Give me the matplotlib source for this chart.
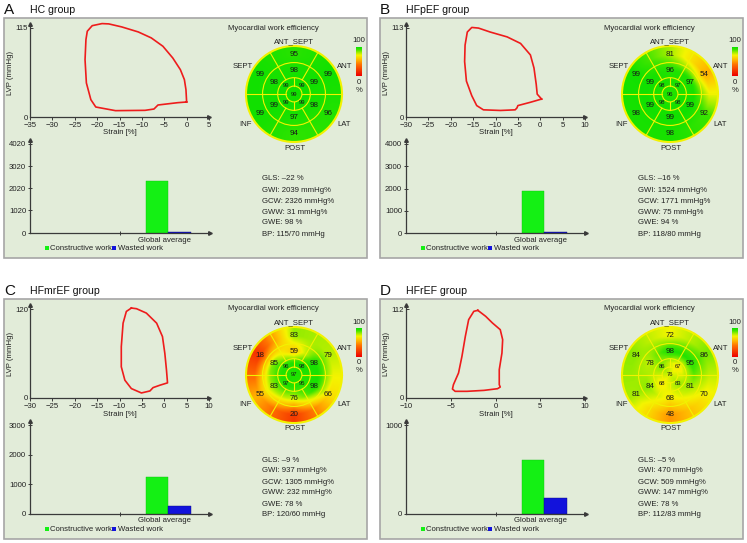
import numpy as np
import matplotlib
matplotlib.use('Agg')
import matplotlib.pyplot as plt
from matplotlib.patches import Rectangle, Circle
from matplotlib.colors import LinearSegmentedColormap

plt.rcParams['font.family'] = ['Liberation Sans', 'DejaVu Sans']

# ---------------- data ----------------
letters = ['A', 'B', 'C', 'D']
groups = ['HC group', 'HFpEF group', 'HFmrEF group', 'HFrEF group']

# pressure-strain loops (strain %, LVP mmHg)
loopA_strain = [0.0, -0.15, -0.5, -1.4, -3.1, -5.3, -7.9, -10.8, -14.5, -17.4, -18.9, -21.1, -22.2,
                -22.5, -22.7, -22.4, -21.4, -20.3, -15.9, -9.3, -7.3, -6.4, -2.0, 0.0]
loopA_lvp = [19.4, 35.3, 48.3, 61.2, 76.3, 91.4, 102.2, 109.9, 116.4, 120.3, 120.7, 118.0, 110.8,
             100.0, 74.0, 44.0, 22.4, 12.9, 8.2, 8.6, 10.3, 15.5, 18.5, 19.4]
loopB_strain = [0.3, -0.68, -0.9, -1.4, -2.2, -4.4, -7.4, -11.2, -13.8, -15.3, -16.3, -16.8, -16.9,
                -16.5, -15.3, -14.2, -12.7, -8.9, -5.6, -5.2, -5.0, -2.2, 0.3]
loopB_lvp = [22.8, 29.0, 41.5, 62.2, 78.8, 93.4, 101.7, 107.9, 112.9, 113.7, 107.9, 91.3, 70.5,
             45.6, 27.0, 14.5, 9.1, 8.3, 9.1, 11.6, 14.5, 18.7, 22.8]
loopC_strain = [-7.35, -8.47, -9.2, -9.6, -9.6, -8.8, -7.35, -5.1, -3.2, -2.5, -1.0, 0.73, 0.5,
                0.13, -0.4, -1.7, -4.0, -6.2, -7.35]
loopC_lvp = [121.3, 116.7, 100.9, 69.2, 42.1, 24.0, 12.7, 6.8, 9.5, 14.0, 17.2, 20.4, 37.6,
             60.2, 82.8, 100.9, 114.5, 120.4, 121.3]
loopD_strain = [-1.97, -1.10, -0.34, 0.53, 0.80, 0.72, 0.42, 0.42, 0.53, 0.23, -1.29, -3.18, -4.51,
                -4.81, -4.70, -4.13, -3.75, -3.37, -3.0, -2.42, -1.97]
loopD_lvp = [110.3, 102.8, 94.4, 86.0, 73.4, 56.6, 35.7, 16.8, 13.8, 11.7, 9.6, 8.4, 8.4,
             11.3, 16.8, 31.5, 52.4, 77.6, 98.6, 109.1, 110.3]
loops_strain = [loopA_strain, loopB_strain, loopC_strain, loopD_strain]
loops_lvp = [loopA_lvp, loopB_lvp, loopC_lvp, loopD_lvp]

strain_ticks = [[-35, -30, -25, -20, -15, -10, -5, 0, 5],
                [-30, -25, -20, -15, -10, -5, 0, 5, 10],
                [-30, -25, -20, -15, -10, -5, 0, 5, 10],
                [-10, -5, 0, 5, 10]]
lvp_max = [115, 113, 120, 112]

# work bars (mmHg%)
work_yticks = [[0, 1020, 2020, 3020, 4020],
               [0, 1000, 2000, 3000, 4000],
               [0, 1000, 2000, 3000],
               [0, 1000]]
constructive_work = [2350, 1900, 1250, 610]
wasted_work = [31, 40, 270, 180]

# bullseye: outer / middle ring order = ANT_SEPT, ANT, LAT, POST, INF, SEPT
# inner ring order = upper-left, upper-right, lower-right, lower-left
outer_ring = [[95, 99, 96, 94, 99, 99],
              [81, 54, 92, 98, 98, 99],
              [83, 79, 66, 20, 55, 18],
              [72, 86, 70, 48, 81, 84]]
middle_ring = [[98, 99, 98, 97, 99, 98],
               [96, 97, 99, 99, 99, 99],
               [59, 98, 98, 76, 83, 85],
               [98, 95, 81, 68, 84, 78]]
inner_ring = [[99, 99, 99, 99],
              [98, 97, 98, 98],
              [96, 98, 95, 97],
              [86, 67, 83, 68]]
apex = [99, 96, 97, 76]
wall_labels = ['ANT_SEPT', 'ANT', 'LAT', 'POST', 'INF', 'SEPT']

stats = [["GLS: \u201322 %", "GWI: 2039 mmHg%", "GCW: 2326 mmHg%", "GWW: 31 mmHg%", "GWE: 98 %", "BP: 115/70 mmHg"],
         ["GLS: \u201316 %", "GWI: 1524 mmHg%", "GCW: 1771 mmHg%", "GWW: 75 mmHg%", "GWE: 94 %", "BP: 118/80 mmHg"],
         ["GLS: \u20139 %", "GWI: 937 mmHg%", "GCW: 1305 mmHg%", "GWW: 232 mmHg%", "GWE: 78 %", "BP: 120/60 mmHg"],
         ["GLS: \u20135 %", "GWI: 470 mmHg%", "GCW: 509 mmHg%", "GWW: 147 mmHg%", "GWE: 78 %", "BP: 112/83 mmHg"]]

# ---------------- style ----------------
W, H = 747, 543
fig = plt.figure(figsize=(W / 100, H / 100), dpi=100)
fig.patch.set_facecolor('white')

BOXES = [(4, 18), (380, 18), (4, 299), (380, 299)]
BW, BH = 363, 240
PANEL_BG = '#e2ecd9'
PANEL_EDGE = '#a6a6a6'
SPINE = '#3a3a3a'
FS = 5.6
GREEN = '#14f014'
BLUE = '#1212dc'
LOOP_RED = '#ee1c1c'
LINE_Y = '#f2f200'

cmap = LinearSegmentedColormap.from_list('mw', [
    (0.0, (0.93, 0.0, 0.0)),
    (0.40, (1.0, 0.45, 0.0)),
    (0.58, (1.0, 0.75, 0.0)),
    (0.72, (0.96, 0.96, 0.0)),
    (0.82, (0.62, 0.93, 0.0)),
    (0.91, (0.25, 0.90, 0.0)),
    (1.0, (0.05, 0.88, 0.0))])


def frect(x0, y0, x1, y1):
    return [x0 / W, 1 - y1 / H, (x1 - x0) / W, (y1 - y0) / H]


def ftext(x, y, s, **kw):
    kw.setdefault('fontsize', FS)
    kw.setdefault('va', 'center')
    kw.setdefault('color', '#222222')
    return fig.text(x / W, 1 - y / H, s, **kw)


def style_axes(ax):
    ax.set_facecolor('none')
    for s in ['top', 'right']:
        ax.spines[s].set_visible(False)
    for s in ['left', 'bottom']:
        ax.spines[s].set_color(SPINE)
        ax.spines[s].set_linewidth(0.9)
    ax.tick_params(labelsize=FS, colors=SPINE, length=2, width=0.7, pad=1.5, labelcolor='#222222')
    ax.plot([0], [1], marker='^', ms=2.6, color=SPINE, transform=ax.transAxes, clip_on=False)
    ax.plot([1], [0], marker='>', ms=2.6, color=SPINE, transform=ax.transAxes, clip_on=False)


def pv_panel(bx, by, i):
    top_px, tick_px, bot_px = 6, 10, 99
    ymax = lvp_max[i]
    ax = fig.add_axes(frect(bx + 26, by + top_px, bx + 205, by + bot_px))
    style_axes(ax)
    xt = strain_ticks[i]
    ax.set_xlim(xt[0], xt[-1])
    ax.set_ylim(0, ymax * (bot_px - top_px) / (bot_px - tick_px))
    ax.set_xticks(xt)
    ax.set_yticks([0, ymax])
    ax.tick_params(axis='x', direction='out')
    ax.tick_params(axis='y', direction='in')
    ax.plot(loops_strain[i], loops_lvp[i], color=LOOP_RED, lw=1.2, clip_on=False,
            solid_joinstyle='round')
    ftext(bx + 116, by + 115, 'Strain [%]', ha='center')
    ftext(bx + 7, by + 55, 'LVP (mmHg)', ha='center', rotation=90)


def bar_panel(bx, by, i):
    top_px, bot_px = 122, 215
    yt = work_yticks[i]
    tick_px = 126
    ax = fig.add_axes(frect(bx + 26, by + top_px, bx + 206, by + bot_px))
    style_axes(ax)
    ax.set_xlim(0, 2)
    ax.set_ylim(0, yt[-1] * (bot_px - top_px) / (bot_px - tick_px))
    ax.set_yticks(yt)
    ax.set_xticks([1])
    ax.set_xticklabels([''])
    ax.tick_params(axis='both', direction='inout', length=2.5)
    ax.bar([1.29], [constructive_work[i]], width=0.24, align='edge', color=GREEN,
           edgecolor='#10c010', linewidth=0.3)
    ax.bar([1.53], [wasted_work[i]], width=0.255, align='edge', color=BLUE,
           edgecolor='#0a0a80', linewidth=0.3)
    ftext(bx + 161, by + 222, 'Global average', ha='center')
    # legend
    for (sx, col, lab) in [(41, GREEN, 'Constructive work'), (108, BLUE, 'Wasted work')]:
        fig.patches.append(Rectangle(((bx + sx) / W, 1 - (by + 232) / H), 3.8 / W, 3.8 / H,
                                     transform=fig.transFigure, facecolor=col,
                                     edgecolor='none', zorder=3))
        ftext(bx + sx + 5.5, by + 230.5, lab, ha='left')


def bullseye_panel(bx, by, i):
    cx, cy, rpx = bx + 290, by + 76, 48
    m = 54
    ax = fig.add_axes(frect(cx - m, cy - m, cx + m, cy + m))
    ax.set_xlim(-m / rpx, m / rpx)
    ax.set_ylim(-m / rpx, m / rpx)
    ax.set_aspect('equal')
    ax.axis('off')

    n = 321
    g = np.linspace(-1, 1, n)
    X, Y = np.meshgrid(g, g)
    R = np.hypot(X, Y)
    T = np.degrees(np.arctan2(Y, X))

    def ang_interp(vals, centers):
        c = np.array(centers, float)
        v = np.array(vals, float)
        o = np.argsort(c)
        c, v = c[o], v[o]
        ce = np.concatenate([c - 360, c, c + 360])
        ve = np.tile(v, 3)
        return np.interp(T, ce, ve)

    six = [90, 30, -30, -90, -150, 150]
    four = [135, 45, -45, -135]
    layers = [np.full_like(R, apex[i]), ang_interp(inner_ring[i], four),
              ang_interp(middle_ring[i], six), ang_interp(outer_ring[i], six)]
    rc = [0.0, 0.25, 0.5, 0.82]
    Rc = np.clip(R, 0, rc[-1])
    V = np.zeros_like(R)
    for k in range(3):
        msk = (Rc >= rc[k]) & (Rc <= rc[k + 1])
        t = (Rc - rc[k]) / (rc[k + 1] - rc[k])
        V[msk] = (layers[k] * (1 - t) + layers[k + 1] * t)[msk]

    clip = Circle((0, 0), 1.0, transform=ax.transData, facecolor='none', edgecolor='none')
    ax.add_patch(clip)
    im = ax.imshow(V, extent=(-1, 1, -1, 1), origin='lower', cmap=cmap, vmin=0, vmax=100,
                   interpolation='bilinear')
    im.set_clip_path(clip)

    radii = [1.0, 0.655, 0.34, 0.165]
    for r in radii:
        ax.add_patch(Circle((0, 0), r, facecolor='none', edgecolor=LINE_Y,
                            lw=1.5 if r == 1.0 else 0.8))
    for a in [0, 60, 120, 180, 240, 300]:
        ar = np.radians(a)
        ax.plot([0.34 * np.cos(ar), np.cos(ar)], [0.34 * np.sin(ar), np.sin(ar)],
                color=LINE_Y, lw=0.8)
    for a in [0, 90, 180, 270]:
        ar = np.radians(a)
        ax.plot([0.165 * np.cos(ar), 0.34 * np.cos(ar)], [0.165 * np.sin(ar), 0.34 * np.sin(ar)],
                color=LINE_Y, lw=0.8)

    for vals, rr, fs in [(outer_ring[i], 0.82, 5.8), (middle_ring[i], 0.49, 5.8)]:
        for v, a in zip(vals, six):
            ar = np.radians(a)
            ax.text(rr * np.cos(ar), rr * np.sin(ar), str(v), ha='center', va='center',
                    fontsize=fs, color='#1a1a1a')
    for v, a in zip(inner_ring[i], four):
        ar = np.radians(a)
        ax.text(0.245 * np.cos(ar), 0.245 * np.sin(ar), str(v), ha='center', va='center',
                fontsize=4.2, color='#1a1a1a')
    ax.text(0, 0, str(apex[i]), ha='center', va='center', fontsize=4.2, color='#1a1a1a')

    # wall labels
    lab_pos = {'ANT_SEPT': (290, 24), 'ANT': (341, 49), 'LAT': (340, 106),
               'POST': (291, 130), 'INF': (242, 106), 'SEPT': (239, 49)}
    for lab in wall_labels:
        x, y = lab_pos[lab]
        ftext(bx + x, by + y, lab, ha='center')
    ftext(bx + 224, by + 10, 'Myocardial work efficiency', ha='left')

    # colour bar
    cax = fig.add_axes(frect(bx + 352, by + 29, bx + 358, by + 58))
    cax.imshow(np.linspace(0, 100, 100).reshape(-1, 1), cmap=cmap, vmin=0, vmax=100,
               origin='lower', aspect='auto', extent=(0, 1, 0, 100))
    cax.axis('off')
    ftext(bx + 355, by + 23, '100', ha='center')
    ftext(bx + 355, by + 64, '0', ha='center')
    ftext(bx + 355, by + 72, '%', ha='center')


for i, (bx, by) in enumerate(BOXES):
    fig.patches.append(Rectangle((bx / W, 1 - (by + BH) / H), BW / W, BH / H,
                                 transform=fig.transFigure, facecolor=PANEL_BG,
                                 edgecolor=PANEL_EDGE, lw=1.2, zorder=-1))
    ftext(bx, by - 8, letters[i], ha='left', fontsize=11, color='#111111')
    ftext(bx + 26, by - 8, groups[i], ha='left', fontsize=7.6, color='#111111')
    pv_panel(bx, by, i)
    bar_panel(bx, by, i)
    bullseye_panel(bx, by, i)
    for k, line in enumerate(stats[i]):
        ftext(bx + 258, by + 161 + 11 * k, line, ha='left')

fig.savefig('out.png', dpi=100, facecolor='white')
